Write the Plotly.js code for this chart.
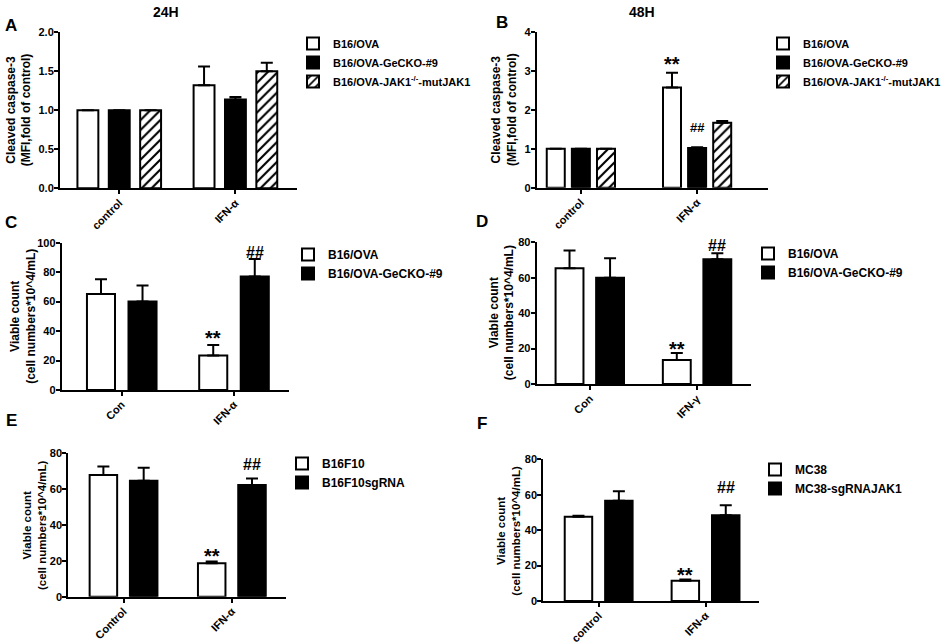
<!DOCTYPE html>
<html><head><meta charset="utf-8">
<script src="https://cdn.plot.ly/plotly-3.0.1.min.js"></script>
<style>html,body{margin:0;padding:0;background:#fff}#chart{width:947px;height:644px}</style>
</head><body><div id="chart"></div>
<script>
// ---------- DATA ----------
const catsA = ['control', 'IFN-α'];
const seriesA = ['B16/OVA', 'B16/OVA-GeCKO-#9', 'B16/OVA-JAK1<sup>-/-</sup>-mutJAK1'];
const valsA = [[1.00, 1.32], [1.00, 1.14], [1.00, 1.50]];
const errA  = [[0, 0.24], [0, 0.03], [0, 0.11]];

const catsB = ['control', 'IFN-α'];
const seriesB = ['B16/OVA', 'B16/OVA-GeCKO-#9', 'B16/OVA-JAK1<sup>-/-</sup>-mutJAK1'];
const valsB = [[1.00, 2.58], [1.00, 1.02], [1.00, 1.67]];
const errB  = [[0, 0.38], [0, 0.02], [0, 0.05]];

const catsC = ['Con', 'IFN-α'];
const seriesC = ['B16/OVA', 'B16/OVA-GeCKO-#9'];
const valsC = [[65.2, 23.5], [60.0, 77.0]];
const errC  = [[10.0, 7.0], [11.0, 12.0]];

const catsD = ['Con', 'IFN-γ'];
const seriesD = ['B16/OVA', 'B16/OVA-GeCKO-#9'];
const valsD = [[65.3, 13.5], [60.0, 70.5]];
const errD  = [[10.0, 4.0], [11.0, 3.3]];

const catsE = ['Control', 'IFN-α'];
const seriesE = ['B16F10', 'B16F10sgRNA'];
const valsE = [[67.9, 18.6], [64.7, 62.3]];
const errE  = [[4.7, 1.1], [7.3, 3.7]];

const catsF = ['control', 'IFN-α'];
const seriesF = ['MC38', 'MC38-sgRNAJAK1'];
const valsF = [[47.6, 11.5], [56.6, 48.4]];
const errF  = [[0.6, 0.7], [5.3, 5.6]];

const ytitleCasp = 'Cleaved caspase-3<br>(MFI,fold of control)';
const ytitleViable = 'Viable count<br>(cell numbers*10^4/mL)';

// significance marks: [series index, category index, text]
const marksB = [[0, 1, '**'], [1, 1, '##']];
const marksC = [[0, 1, '**'], [1, 1, '##']];
const marksD = [[0, 1, '**'], [1, 1, '##']];
const marksE = [[0, 1, '**'], [1, 1, '##']];
const marksF = [[0, 1, '**'], [1, 1, '##']];

// ---------- STYLE / LAYOUT ----------
const W = 947, H = 644;
const FONT = 'Liberation Sans, Arial, sans-serif';
function px2x(p){ return p / W; }
function px2y(p){ return 1 - p / H; }

const panels = [
  {id:'A', cats:catsA, series:seriesA, vals:valsA, err:errA, marks:[], ytitle:ytitleCasp, tx:19, tfs:12,
   xd:[60,297], yd:[32.3,188.3], xr:[-0.51,1.53], yr:[0,2], dtick:0.5, fmt:'.1f',
   slot:0.27, bw:0.18, leg:{tx:333, ty:29, fs:11}, markShift:[]},
  {id:'B', cats:catsB, series:seriesB, vals:valsB, err:errB, marks:marksB, ytitle:ytitleCasp, tx:504, tfs:12,
   xd:[536.7,768], yd:[32.3,187.7], xr:[-0.38,1.61], yr:[0,4], dtick:1, fmt:'d',
   slot:0.216, bw:0.155, leg:{tx:803, ty:29, fs:11}, markShift:[-4, 10], markSize:[20, 13]},
  {id:'C', cats:catsC, series:seriesC, vals:valsC, err:errC, marks:marksC, ytitle:ytitleViable, tx:23.5, tfs:12,
   xd:[61.7,289], yd:[242.7,390], xr:[-0.535,1.49], yr:[0,100], dtick:20, fmt:'d',
   slot:0.37, bw:0.25, leg:{tx:328, ty:240, fs:12}, markShift:[-6, -4], markSize:[20, 16]},
  {id:'D', cats:catsD, series:seriesD, vals:valsD, err:errD, marks:marksD, ytitle:ytitleViable, tx:502, tfs:12,
   xd:[536.7,750.7], yd:[242.3,384], xr:[-0.495,1.5], yr:[0,80], dtick:20, fmt:'d',
   slot:0.378, bw:0.26, leg:{tx:788, ty:239, fs:12}, markShift:[-9, -3], markSize:[20, 16]},
  {id:'E', cats:catsE, series:seriesE, vals:valsE, err:errE, marks:marksE, ytitle:ytitleViable, tx:34, tfs:11.5,
   xd:[68.3,286], yd:[453.3,596.7], xr:[-0.51,1.5], yr:[0,80], dtick:20, fmt:'d',
   slot:0.372, bw:0.254, leg:{tx:322, ty:449, fs:12}, markShift:[-8, 3], markSize:[20, 16]},
  {id:'F', cats:catsF, series:seriesF, vals:valsF, err:errF, marks:marksF, ytitle:ytitleViable, tx:508.5, tfs:11.5,
   xd:[543.3,759], yd:[459.3,601], xr:[-0.518,1.5], yr:[0,80], dtick:20, fmt:'d',
   slot:0.378, bw:0.257, leg:{tx:795, ty:455, fs:12}, markShift:[-9, 7], markSize:[20, 16]}
];

const fills = ['#ffffff', '#000000', '#ffffff'];

const traces = [];
const layout = {
  width: W, height: H,
  margin: {l:0, r:0, t:0, b:0},
  paper_bgcolor: '#fff', plot_bgcolor: '#fff',
  barmode: 'group',
  showlegend: true,
  font: {family: FONT, color: '#000'},
  annotations: []
};

panels.forEach((p, pi) => {
  const k = pi + 1;
  const xa = k === 1 ? 'x' : 'x' + k;
  const ya = k === 1 ? 'y' : 'y' + k;
  const legName = k === 1 ? 'legend' : 'legend' + k;
  const n = p.series.length;
  p.series.forEach((name, si) => {
    const off = (si - (n - 1) / 2) * p.slot - p.bw / 2;
    const marker = {color: fills[si], line: {color: '#000', width: 2}};
    if (si === 2) {
      marker.pattern = {shape: '/', fgcolor: '#000', bgcolor: '#fff', size: 7, solidity: 0.3};
    }
    traces.push({
      type: 'bar', name: name, x: p.cats, y: p.vals[si],
      xaxis: xa, yaxis: ya, legend: legName,
      offset: off, width: p.bw,
      marker: marker,
      error_y: {type: 'data', symmetric: false, array: p.err[si],
                arrayminus: p.err[si].map(() => 0),
                color: '#000', thickness: 2, width: 6},
      hoverinfo: 'skip'
    });
  });
  const xKey = k === 1 ? 'xaxis' : 'xaxis' + k;
  const yKey = k === 1 ? 'yaxis' : 'yaxis' + k;
  layout[xKey] = {
    domain: [px2x(p.xd[0]), px2x(p.xd[1])], anchor: ya, type: 'category',
    range: p.xr, showline: true, linewidth: 2, linecolor: '#000',
    ticks: 'outside', ticklen: 4, tickwidth: 2, tickcolor: '#000', tickangle: -45,
    ticklabelstandoff: -2,
    tickfont: {family: FONT, size: 11, weight: 'bold', color: '#000'},
    showgrid: false, zeroline: false, fixedrange: true
  };
  layout[yKey] = {
    domain: [px2y(p.yd[1]), px2y(p.yd[0])], anchor: xa,
    range: p.yr, dtick: p.dtick, tick0: 0, tickformat: p.fmt,
    showline: true, linewidth: 2, linecolor: '#000',
    ticks: 'outside', ticklen: 4, tickwidth: 2, tickcolor: '#000',
    ticklabelstandoff: -2,
    tickfont: {family: FONT, size: 11, weight: 'bold', color: '#000'},
    showgrid: false, zeroline: false, fixedrange: true
  };
  // y-axis title (two lines, rotated)
  layout.annotations.push({
    xref: 'paper', yref: 'paper', x: px2x(p.tx), y: px2y((p.yd[0] + p.yd[1]) / 2),
    xanchor: 'center', yanchor: 'middle', textangle: -90, showarrow: false,
    text: p.ytitle, font: {family: FONT, size: p.tfs, weight: 'bold', color: '#000'}
  });
  layout[legName] = {
    x: px2x(p.leg.tx - 40), y: px2y(p.leg.ty), xanchor: 'left', yanchor: 'top',
    bgcolor: 'rgba(0,0,0,0)', borderwidth: 0,
    font: {family: FONT, size: p.leg.fs, weight: 'bold', color: '#000'},
    tracegroupgap: 0, itemclick: false, itemdoubleclick: false
  };
  p.marks.forEach((m, mi) => {
    const [si, ci, txt] = m;
    const off = (si - (n - 1) / 2) * p.slot;
    layout.annotations.push({
      xref: xa, yref: ya, x: ci + off, y: p.vals[si][ci] + p.err[si][ci],
      xanchor: 'center', yanchor: 'bottom', yshift: p.markShift[mi] || 0,
      text: txt, showarrow: false,
      font: {family: FONT, size: (p.markSize ? p.markSize[mi] : 16), weight: 'bold', color: '#000'}
    });
  });
  // panel letter
  const letterPos = {A:[11,25], B:[502,23], C:[11,222], D:[482,221], E:[11,420], F:[482,423]}[p.id];
  layout.annotations.push({
    xref: 'paper', yref: 'paper', x: px2x(letterPos[0]), y: px2y(letterPos[1]),
    xanchor: 'center', yanchor: 'middle', text: p.id, showarrow: false,
    font: {family: FONT, size: 17, weight: 'bold', color: '#000'}
  });
});

// time titles
[['24H', 166, 12], ['48H', 642, 12]].forEach(t => {
  layout.annotations.push({
    xref: 'paper', yref: 'paper', x: px2x(t[1]), y: px2y(t[2]),
    xanchor: 'center', yanchor: 'middle', text: t[0], showarrow: false,
    font: {family: FONT, size: 14, weight: 'bold', color: '#000'}
  });
});

Plotly.newPlot('chart', traces, layout, {staticPlot: true, displayModeBar: false});
</script>
</body></html>
